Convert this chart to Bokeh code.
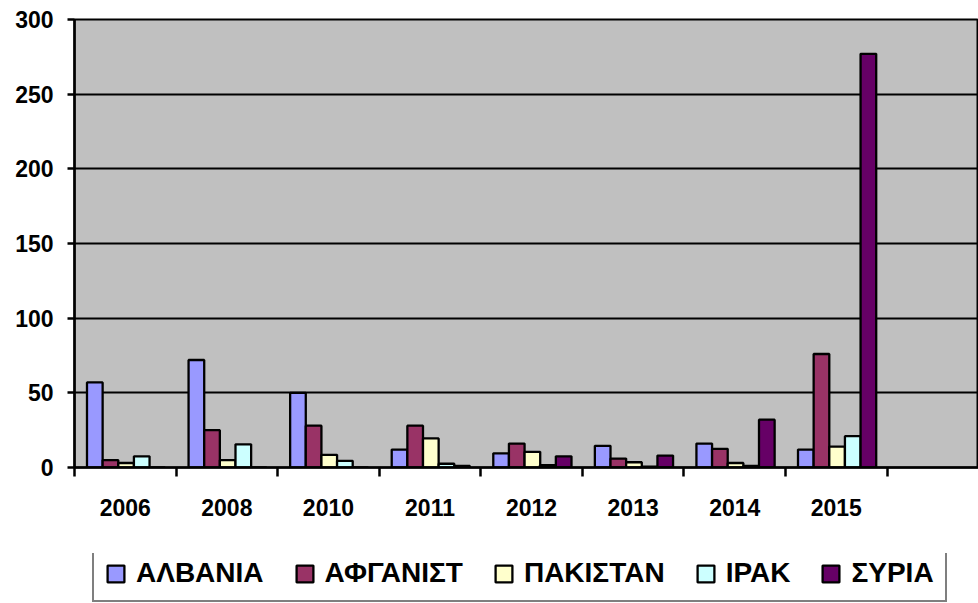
from bokeh.plotting import figure
from bokeh.layouts import column
from bokeh.models import ColumnDataSource, Range1d, FixedTicker, Legend, LegendItem
from bokeh.transform import dodge
from bokeh.embed import file_html
from bokeh.resources import INLINE

years = ["2006", "2008", "2010", "2011", "2012", "2013", "2014", "2015"]
series_names = ["ΑΛΒΑΝΙΑ", "ΑΦΓΑΝΙΣΤ", "ΠΑΚΙΣΤΑΝ", "ΙΡΑΚ", "ΣΥΡΙΑ"]
albania = [57, 72, 50, 12, 9.5, 14.5, 16, 12]
afghanistan = [5, 25, 28, 28, 16, 6, 12.5, 76]
pakistan = [3, 5, 8.5, 19.5, 10.5, 3.5, 3, 14]
iraq = [7.5, 15.5, 4.5, 2.5, 1.5, 0.5, 1, 21]
syria = [0, 0, 0, 1, 7.5, 8, 32, 277]
colors = ["#9999FF", "#993366", "#FFFFCC", "#CCFFFF", "#660066"]
y_ticks = [0, 50, 100, 150, 200, 250, 300]

FONT = "Liberation Sans"
xpos = [i + 0.5 for i in range(len(years))]
cols = ["a", "b", "c", "d", "e"]
src = ColumnDataSource(dict(x=xpos, a=albania, b=afghanistan, c=pakistan, d=iraq, e=syria))

p = figure(width=978, height=553, x_range=Range1d(0, 8.9), y_range=Range1d(0, 300),
           output_backend="svg", toolbar_location=None,
           min_border_left=74, min_border_right=0, min_border_top=19, min_border_bottom=86)
p.background_fill_color = "#C0C0C0"
p.border_fill_color = "white"
p.outline_line_color = "black"
p.outline_line_width = 2

w = 0.154
for j, c in enumerate(cols):
    p.vbar(x=dodge("x", (j - 2) * w + 0.008), top=c, width=w, source=src,
           fill_color=colors[j], line_color="black", line_width=2.3)

p.xgrid.visible = False
p.ygrid.ticker = FixedTicker(ticks=y_ticks)
p.ygrid.grid_line_color = "black"
p.ygrid.grid_line_width = 2

# y axis
p.yaxis.ticker = FixedTicker(ticks=y_ticks)
p.yaxis.axis_line_color = "black"
p.yaxis.axis_line_width = 2.5
p.yaxis.major_tick_out = 7
p.yaxis.major_tick_in = 0
p.yaxis.major_tick_line_width = 2.5
p.yaxis.minor_tick_line_color = None
p.yaxis.major_label_standoff = 14
p.yaxis.major_label_text_font = FONT
p.yaxis.major_label_text_font_style = "bold"
p.yaxis.major_label_text_font_size = "23px"
p.yaxis.major_label_text_color = "black"

# x axis: labels at category centers, ticks at category boundaries
p.xaxis.ticker = FixedTicker(ticks=xpos, minor_ticks=list(range(len(years) + 1)))
p.xaxis.major_label_overrides = {xv: y for xv, y in zip(xpos, years)}
p.xaxis.axis_line_color = "black"
p.xaxis.axis_line_width = 2.5
p.xaxis.major_tick_out = 0
p.xaxis.major_tick_in = 0
p.xaxis.minor_tick_out = 9
p.xaxis.minor_tick_in = 0
p.xaxis.minor_tick_line_color = "black"
p.xaxis.minor_tick_line_width = 2.5
p.xaxis.major_label_standoff = 22
p.xaxis.major_label_text_font = FONT
p.xaxis.major_label_text_font_style = "bold"
p.xaxis.major_label_text_font_size = "23px"
p.xaxis.major_label_text_color = "black"

# separate strip holding the legend below the chart (same series, drawn out of view)
lg = figure(width=978, height=50, x_range=Range1d(0, 8.9), y_range=Range1d(-20, -10),
            output_backend="svg", toolbar_location=None,
            min_border_left=0, min_border_right=0, min_border_top=0, min_border_bottom=0)
lg.axis.visible = False
lg.grid.visible = False
lg.outline_line_color = None
lg.background_fill_color = "white"
legend_renderers = []
for j, c in enumerate(cols):
    r = lg.vbar(x="x", top=c, width=w, source=src,
                fill_color=colors[j], line_color="black", line_width=2.3)
    legend_renderers.append(r)

legend = Legend(items=[LegendItem(label=n, renderers=[r]) for n, r in zip(series_names, legend_renderers)],
                orientation="horizontal", location=(18, 1), margin=0,
                padding=11, spacing=30, label_standoff=10,
                glyph_width=21, glyph_height=21,
                label_text_font=FONT, label_text_font_style="bold",
                label_text_font_size="28px", label_text_color="black",
                border_line_color="black", border_line_width=2,
                background_fill_color="white", background_fill_alpha=1.0)
lg.add_layout(legend)

layout = column(p, lg, spacing=0)
open("out.html", "w").write(file_html(layout, INLINE))
